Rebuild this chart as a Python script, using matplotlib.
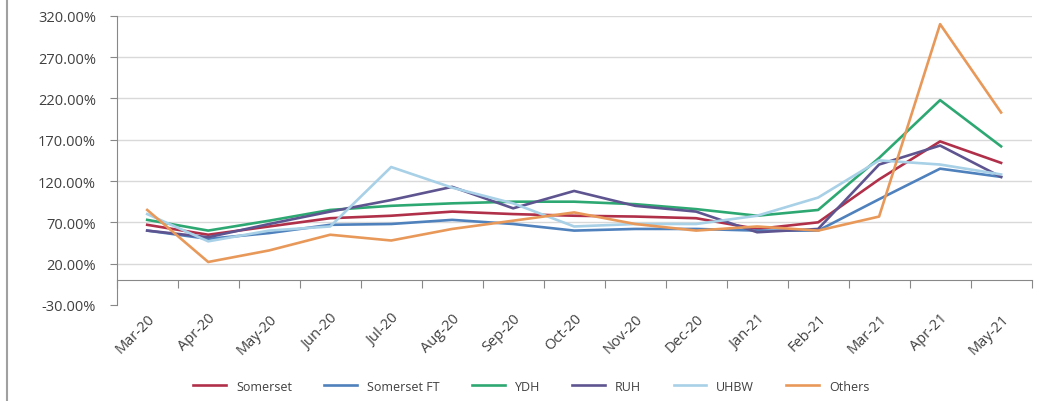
import matplotlib.pyplot as plt
from matplotlib.lines import Line2D
from matplotlib.ticker import FuncFormatter

months = ['Mar-20', 'Apr-20', 'May-20', 'Jun-20', 'Jul-20', 'Aug-20', 'Sep-20',
          'Oct-20', 'Nov-20', 'Dec-20', 'Jan-21', 'Feb-21', 'Mar-21', 'Apr-21', 'May-21']

# values in percent
somerset = [67, 55, 65, 75, 78, 83, 80, 78, 77, 75, 62, 70, 122, 168, 142]
somerset_ft = [60, 50, 57, 67, 68, 73, 68, 60, 62, 62, 60, 60, 98, 135, 125]
ydh = [73, 60, 72, 85, 90, 93, 95, 95, 92, 86, 78, 85, 148, 218, 162]
ruh = [60, 52, 68, 83, 97, 113, 87, 108, 90, 83, 58, 62, 140, 163, 125]
uhbw = [80, 47, 60, 65, 137, 112, 93, 65, 68, 68, 78, 100, 145, 140, 128]
others = [85, 22, 36, 55, 48, 62, 72, 82, 68, 60, 65, 60, 77, 310, 203]

series = [('Somerset', somerset, '#b0304a'),
          ('Somerset FT', somerset_ft, '#4f81bd'),
          ('YDH', ydh, '#2ea872'),
          ('RUH', ruh, '#5e5590'),
          ('UHBW', uhbw, '#a8d0e6'),
          ('Others', others, '#e8995a')]

plt.rcParams['font.family'] = ['Open Sans', 'DejaVu Sans']

fig = plt.figure(figsize=(10.42, 4.02), dpi=100)
ax = fig.add_axes([0.112, 0.239, 0.878, 0.719])

x = list(range(len(months)))
for name, vals, col in series:
    ax.plot(x, vals, color=col, lw=1.9, label=name)

ax.set_xlim(-0.5, len(months) - 0.5)
ax.set_ylim(-30, 320)
yt = list(range(-30, 321, 50))
ax.set_yticks(yt)
ax.yaxis.set_major_formatter(FuncFormatter(lambda v, p: '%.2f%%' % v))
ax.tick_params(axis='y', labelsize=10.5, colors='#404040', length=5, color='#888888', pad=10)
for v in yt[1:]:
    ax.axhline(v, color='#d9d9d9', lw=1, zorder=0)

# category axis crosses at 0
for s in ['top', 'right']:
    ax.spines[s].set_visible(False)
ax.spines['left'].set_color('#888888')
ax.spines['bottom'].set_position(('data', 0))
ax.spines['bottom'].set_color('#888888')
ax.set_xticks([i - 0.5 for i in range(len(months) + 1)])
ax.set_xticklabels([])
ax.tick_params(axis='x', length=6, color='#888888')

# month labels at the bottom of the plot area
sec = ax.secondary_xaxis(0.0)
sec.set_xticks(x)
sec.set_xticklabels(months, rotation=45, ha='right', rotation_mode='anchor',
                    fontsize=10.5, color='#404040')
sec.tick_params(length=0, pad=4)
sec.spines['bottom'].set_visible(False)

fig.legend(loc='center', bbox_to_anchor=(0.51, 0.037), ncol=6, frameon=False,
           fontsize=9, handlelength=2.6, columnspacing=2.6, labelcolor='#404040')

fig.add_artist(Line2D([0.007, 0.007], [0, 1], transform=fig.transFigure,
                      color='#a0a0a0', lw=1.5))

fig.savefig('out.png', dpi=100)
